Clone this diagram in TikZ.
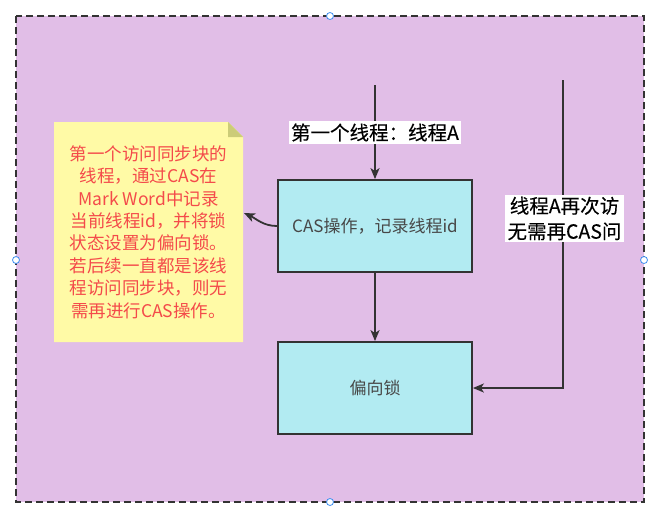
\documentclass[tikz,border=0pt]{standalone}
\usepackage{fontspec}
\newfontfamily\cjk{Noto Sans CJK SC}
\newfontfamily\cjkb[FakeBold=0.2]{Noto Sans CJK SC}
\usetikzlibrary{arrows.meta}
\definecolor{bgpurple}{HTML}{E1BEE7}
\definecolor{boxcyan}{HTML}{B2EBF2}
\definecolor{noteyel}{HTML}{FFFAA6}
\definecolor{notefold}{HTML}{CCCC78}
\definecolor{notered}{HTML}{F44A4A}
\definecolor{edge}{HTML}{333333}
\definecolor{handle}{HTML}{3D8EF0}
\tikzset{
  procbox/.style={draw=edge,line width=1.8pt,fill=boxcyan,minimum width=194pt,minimum height=92pt,inner sep=0pt,text=edge!90,font=\cjk\fontsize{17}{20}\selectfont},
  conn/.style={draw=edge,line width=1.8pt,-{Stealth[length=11pt,width=9pt,inset=3pt]}},
  elabel/.style={fill=white,text=black,inner xsep=2pt,inner ysep=2pt,align=center},
  handledot/.style={circle,draw=handle,fill=white,line width=0.8pt,minimum size=7pt,inner sep=0pt}
}
\begin{document}
\begin{tikzpicture}[x=1pt,y=-1pt]
\useasboundingbox (0,0) rectangle (652,517);
% container
\draw[fill=bgpurple,draw=edge,line width=1.8pt,dash pattern=on 7pt off 4pt] (16,16) rectangle (644,502);
% note
\fill[noteyel] (54,122) -- (228,122) -- (243,137) -- (243,342) -- (54,342) -- cycle;
\fill[notefold] (228,122) -- (243,137) -- (228,137) -- cycle;
\node[text=notered,align=center,font=\cjk\fontsize{17.5}{22.4}\selectfont] (note) at (148.5,232)
 {第一个访问同步块的\\线程，通过CAS在\\Mark Word中记录\\当前线程id，并将锁\\状态设置为偏向锁。\\若后续一直都是该线\\程访问同步块，则无\\需再进行CAS操作。};
\coordinate (noteR) at (244,213);
% boxes
\node[procbox] (cas) at (375,226) {CAS操作，记录线程id};
\node[procbox] (bias) at (375,388) {偏向锁};
% connectors
\coordinate (topS) at (375,85);
\coordinate (rightS) at (563,80);
\coordinate (rightC) at (563,388);
\draw[conn] (topS) -- (cas.north);
\node[elabel,font=\cjkb\fontsize{19.5}{24}\selectfont] (lab1) at (375,132.5) {第一个线程：线程A};
\draw[conn] (cas.south) -- (bias.north);
\draw[conn] (rightS) -- (rightC) -- (bias.east);
\node[elabel,font=\cjkb\fontsize{19.5}{25.5}\selectfont,inner xsep=3pt] (lab2) at (564.5,218.5) {线程A再次访\\无需再CAS问};
\draw[conn] (cas.west) to[out=180,in=-25] (noteR);
% selection handles
\node[handledot] (h1) at (330,16) {};
\node[handledot] (h2) at (330,502) {};
\node[handledot] (h3) at (16,260) {};
\node[handledot] (h4) at (644,260) {};
\end{tikzpicture}
\end{document}
